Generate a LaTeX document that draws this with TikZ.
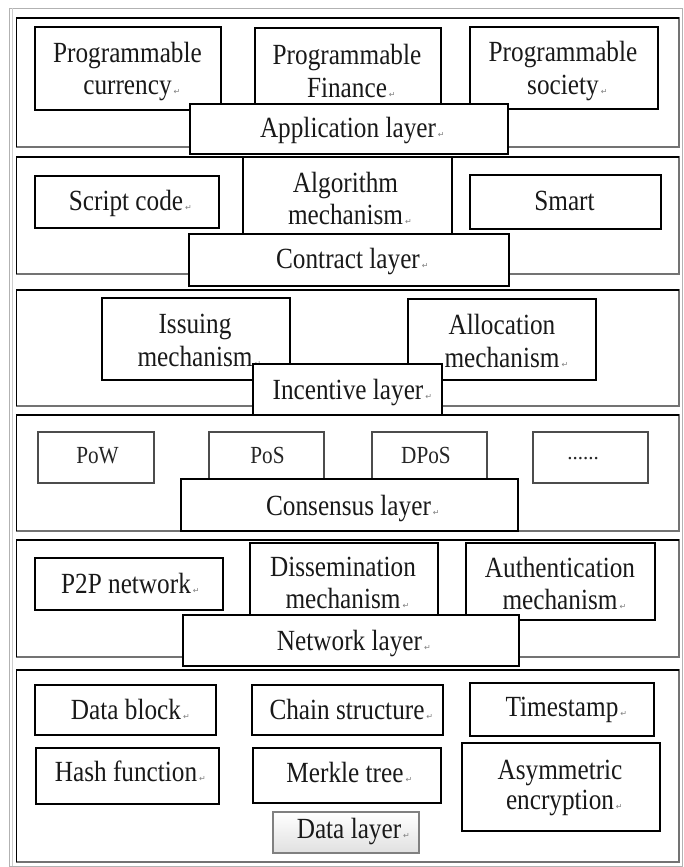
\documentclass[tikz,border=0pt]{standalone}
\usepackage{fontspec}
\usepackage{graphicx}
\setmainfont{Liberation Serif}
\newfontfamily\symfont{DejaVu Sans}
\newcommand\parmark{\rlap{\hspace{2pt}\textcolor{gray}{\symfont\fontsize{8}{8}\selectfont ↵}}}
\newcommand\vt[1]{\scalebox{1.01}[1.17]{#1}}
\begin{document}
\begin{tikzpicture}[x=1pt,y=-1pt,
  every node/.style={inner sep=0pt, outer sep=0pt},
  panel/.style={draw=black!55, line width=1.8pt, fill=white, rectangle},
  bbox/.style={draw=black, line width=2.4pt, fill=white, rectangle},
  cbox/.style={draw=black!70, line width=1.3pt, fill=white, rectangle},
  dbox/.style={draw=black!50, line width=2.2pt, top color=white, bottom color=black!12, rectangle},
  txt/.style={font=\fontsize{25}{32.5}\selectfont, align=center, text=black!90},
  stxt/.style={font=\fontsize{21}{25}\selectfont, text=black!85},
  edge/.style={draw=black, line width=1.8pt}
]
\useasboundingbox (0,0) rectangle (683,867);
\fill[white] (0,0) rectangle (683,867);
% outer frame
\coordinate (o1) at (9,8);
\coordinate (o2) at (682,866);
\draw[gray!60, line width=0.8pt] (o1) rectangle (o2);
\coordinate (o3) at (12,8);
\coordinate (o4) at (12,866);
\draw[gray!40, line width=0.8pt] (o3) -- (o4);

% panels
\node[panel, minimum width=662.5pt, minimum height=129pt] (p1) at (347.75,82.5) {};
\node[panel, minimum width=662.5pt, minimum height=117pt] (p2) at (347.75,215.5) {};
\node[panel, minimum width=662.5pt, minimum height=116pt] (p3) at (347.75,348) {};
\node[panel, minimum width=662.5pt, minimum height=116pt] (p4) at (347.75,473) {};
\node[panel, minimum width=662.5pt, minimum height=117pt] (p5) at (347.75,598.5) {};
\node[panel, minimum width=662.5pt, minimum height=192pt] (p6) at (347.75,766) {};
\foreach \p in {p1,p2,p3,p4,p5,p6}{
  \draw[edge] (\p.south west) -- (\p.north west) -- (\p.north east);
}

% Application layer
\node[bbox, minimum width=186pt, minimum height=83pt] (cur) at (128,68.5) {};
\node[bbox, minimum width=186pt, minimum height=82pt] (fin) at (348,69) {};
\node[bbox, minimum width=188pt, minimum height=82pt] (soc) at (564,68) {};
\node[txt, anchor=north] (tcur) at (127.5,42) {\vt{Programmable}\\\vt{currency}\parmark};
\node[txt, anchor=north] (tfin) at (347,44.5) {\vt{Programmable}\\\vt{Finance}\parmark};
\node[txt, anchor=north] (tsoc) at (563,41.5) {\vt{Programmable}\\\vt{society}\parmark};
\node[bbox, minimum width=318pt, minimum height=50pt] (app) at (349,129) {};
\node[txt, anchor=base] (tapp) at (348,137) {\vt{Application layer}\parmark};

% Contract layer
\node[bbox, minimum width=184pt, minimum height=52pt] (scr) at (127,202) {};
\node[bbox, minimum width=209pt, minimum height=83pt] (alg) at (347.5,198.5) {};
\node[bbox, minimum width=191pt, minimum height=54pt] (sma) at (565.5,202) {};
\node[txt, anchor=base] (tscr) at (126,210.7) {\vt{Script code}\parmark};
\node[txt, anchor=north] (talg) at (345.5,172) {\vt{Algorithm}\\\vt{mechanism}\parmark};
\node[txt, anchor=base] (tsma) at (564.5,210.7) {\vt{Smart}};
\node[bbox, minimum width=320pt, minimum height=52pt] (con) at (349,260) {};
\node[txt, anchor=base] (tcon) at (348,268) {\vt{Contract layer}\parmark};

% Incentive layer
\node[bbox, minimum width=188pt, minimum height=82pt] (iss) at (196,339) {};
\node[bbox, minimum width=188pt, minimum height=81pt] (alc) at (502,339.5) {};
\node[txt, anchor=north] (tiss) at (195,314.5) {\vt{Issuing}\\\vt{mechanism}\parmark};
\node[txt, anchor=north] (talc) at (502,314.5) {\vt{Allocation}\\\vt{mechanism}\parmark};
\node[bbox, minimum width=189pt, minimum height=51pt] (inc) at (347.5,389.5) {};
\node[txt, anchor=base] (tinc) at (348,399) {\vt{Incentive layer}\parmark};

% Consensus layer
\node[cbox, minimum width=116pt, minimum height=51pt] (pow) at (96,457.5) {};
\node[cbox, minimum width=115pt, minimum height=51pt] (pos) at (266.5,457.5) {};
\node[cbox, minimum width=115pt, minimum height=51pt] (dpos) at (429.5,457.5) {};
\node[cbox, minimum width=115pt, minimum height=51pt] (dots) at (590.5,457.5) {};
\node[stxt, anchor=base] (tpow) at (97.5,463) {\vt{PoW}};
\node[stxt, anchor=base] (tpos) at (267.5,463) {\vt{PoS}};
\node[stxt, anchor=base] (tdpos) at (426,463) {\vt{DPoS}};
\node[stxt, anchor=base] (tdots) at (583,459) {......};
\node[bbox, minimum width=337pt, minimum height=52pt] (cns) at (349.5,505) {};
\node[txt, anchor=base] (tcns) at (348.5,515) {\vt{Consensus layer}\parmark};

% Network layer
\node[bbox, minimum width=188pt, minimum height=52pt] (p2p) at (129,584) {};
\node[bbox, minimum width=188pt, minimum height=77pt] (dis) at (344,581.5) {};
\node[bbox, minimum width=189pt, minimum height=77pt] (aut) at (560.5,581.5) {};
\node[txt, anchor=base] (tp2p) at (126,593) {\vt{P2P network}\parmark};
\node[txt, anchor=north] (tdis) at (343,557) {\vt{Dissemination}\\\vt{mechanism}\parmark};
\node[txt, anchor=north] (taut) at (560,557) {\vt{Authentication}\\\vt{mechanism}\parmark};
\node[bbox, minimum width=336pt, minimum height=51pt] (net) at (351,640.5) {};
\node[txt, anchor=base] (tnet) at (349.5,650.7) {\vt{Network layer}\parmark};

% Data layer
\node[bbox, minimum width=181pt, minimum height=50pt] (dbk) at (125.5,710) {};
\node[bbox, minimum width=191pt, minimum height=50pt] (chs) at (347.5,710) {};
\node[bbox, minimum width=184pt, minimum height=53pt] (tms) at (562,709.5) {};
\node[bbox, minimum width=183pt, minimum height=56pt] (hsh) at (127.5,776) {};
\node[bbox, minimum width=188pt, minimum height=55pt] (mrk) at (347,775.5) {};
\node[bbox, minimum width=198pt, minimum height=88pt] (asy) at (561,787) {};
\node[txt, anchor=base] (tdbk) at (126,719) {\vt{Data block}\parmark};
\node[txt, anchor=base] (tchs) at (347,719) {\vt{Chain structure}\parmark};
\node[txt, anchor=base] (ttms) at (562,716.7) {\vt{Timestamp}\parmark};
\node[txt, anchor=base] (thsh) at (126,781.7) {\vt{Hash function}\parmark};
\node[txt, anchor=base] (tmrk) at (345,782.7) {\vt{Merkle tree}\parmark};
\node[txt, anchor=north, font=\fontsize{25}{30}\selectfont] (tasy) at (560,760.5) {\vt{Asymmetric}\\\vt{encryption}\parmark};
\node[dbox, minimum width=146pt, minimum height=41pt] (dat) at (346,832.5) {};
\node[txt, anchor=base] (tdat) at (349,838) {\vt{Data layer}\parmark};
\end{tikzpicture}
\end{document}
